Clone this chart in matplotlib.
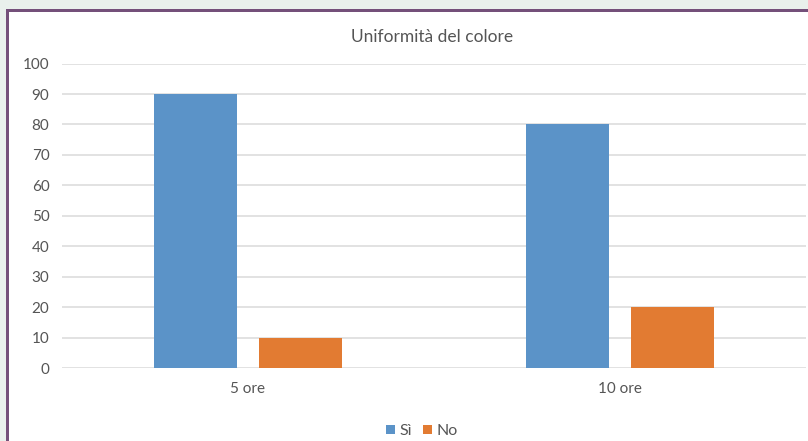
import matplotlib
matplotlib.use("Agg")
import matplotlib.pyplot as plt
from matplotlib.patches import Rectangle
import numpy as np

categories = ["5 ore", "10 ore"]
series_names = ["Sì", "No"]
si_values = [90, 80]
no_values = [10, 20]
y_ticks = [0, 10, 20, 30, 40, 50, 60, 70, 80, 90, 100]

BLUE = "#5B93C8"
ORANGE = "#E27B32"
TEXT = "#555555"
GRID = "#E2E2E2"
EDGE = "#74507A"

plt.rcParams["font.family"] = ["Lato", "DejaVu Sans"]

W, H = 808, 441
fig = plt.figure(figsize=(W / 100, H / 100), dpi=100)
fig.patch.set_facecolor("#E9F0EC")

# white card with purple edge on top and left, kept behind the axes
card = [
    Rectangle((6 / W, 0), 1, 1 - 9 / H, facecolor="white"),
    Rectangle((6 / W, 0), 3 / W, 1 - 9 / H, facecolor=EDGE),
    Rectangle((6 / W, 1 - 12 / H), 1, 3 / H, facecolor=EDGE),
]
for patch in card:
    patch.set_transform(fig.transFigure)
    patch.set_edgecolor("none")
    patch.set_zorder(-5)
    fig.patches.append(patch)

ax = fig.add_axes([62 / W, 1 - 368 / H, (806 - 62) / W, (368 - 63.6) / H])
ax.set_facecolor("none")

x = np.arange(len(categories))
width = 0.224
offset = 0.1415
ax.bar(x - offset, si_values, width, color=BLUE, label=series_names[0], zorder=3)
ax.bar(x + offset, no_values, width, color=ORANGE, label=series_names[1], zorder=3)

ax.set_xlim(-0.5, 1.5)
ax.set_ylim(0, 100)
ax.set_yticks(y_ticks)
ax.set_xticks(x)
ax.set_xticklabels(categories)
ax.tick_params(axis="both", length=0, colors=TEXT, labelsize=11)
ax.tick_params(axis="y", pad=9)
ax.tick_params(axis="x", pad=10)
ax.grid(axis="y", color=GRID, linewidth=1.4, zorder=0)
for spine in ax.spines.values():
    spine.set_visible(False)

fig.text(432 / W, 1 - 37 / H, "Uniformità del colore", ha="center", va="center",
         fontsize=12.5, color=TEXT)

fig.legend(loc="center", bbox_to_anchor=(422 / W, 1 - 431 / H), ncol=2, frameon=False,
           fontsize=11.5, labelcolor=TEXT, handlelength=0.55, handleheight=0.55,
           handletextpad=0.3, columnspacing=0.7, borderpad=0)

fig.savefig("out.png", dpi=100, facecolor=fig.get_facecolor())
